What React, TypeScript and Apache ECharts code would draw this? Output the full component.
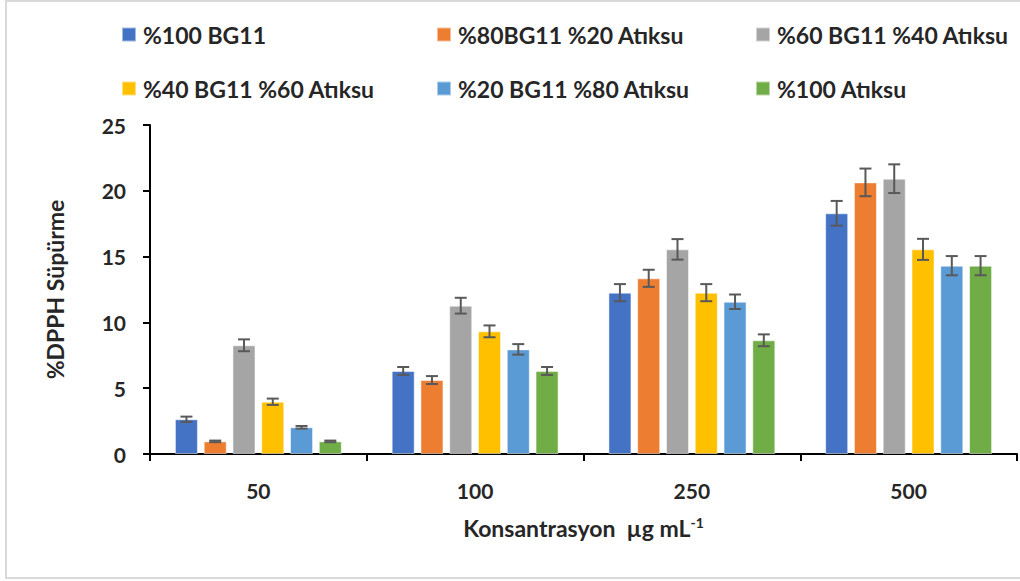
import React, { useEffect, useRef } from "react";
import * as echarts from "echarts";

const categories = ["50", "100", "250", "500"];
const seriesNames = [
  "%100 BG11",
  "%80BG11 %20 Atıksu",
  "%60 BG11 %40 Atıksu",
  "%40 BG11 %60 Atıksu",
  "%20 BG11 %80 Atıksu",
  "%100 Atıksu",
];
const colors = ["#4472C4", "#ED7D31", "#A5A5A5", "#FFC000", "#5B9BD5", "#70AD47"];

const bg100 = [2.64, 6.31, 12.26, 18.29];
const bg80 = [0.96, 5.62, 13.35, 20.64];
const bg60 = [8.26, 11.27, 15.55, 20.92];
const bg40 = [3.97, 9.32, 12.26, 15.55];
const bg20 = [2.03, 7.95, 11.57, 14.31];
const atik100 = [0.96, 6.31, 8.64, 14.31];

const err100 = [0.2, 0.3, 0.65, 0.94];
const err80 = [0.06, 0.3, 0.65, 1.05];
const err60 = [0.45, 0.6, 0.78, 1.09];
const err40 = [0.24, 0.45, 0.65, 0.8];
const err20 = [0.1, 0.4, 0.55, 0.73];
const errAtik = [0.06, 0.3, 0.45, 0.73];

const yTicks = [0, 25, 5];

const values = [bg100, bg80, bg60, bg40, bg20, atik100];
const errors = [err100, err80, err60, err40, err20, errAtik];

const FONT = "Lato, 'Liberation Sans', sans-serif";
const CAT_GAP = 0.23;
const BAR_GAP = 0.25;

export default function App() {
  const ref = useRef<HTMLDivElement>(null);
  useEffect(() => {
    if (!ref.current) return;
    const chart = echarts.init(ref.current, null, { renderer: "svg" });

    const legendPos = [
      [121, 23],
      [436, 23],
      [755, 23],
      [121, 77],
      [436, 77],
      [755, 77],
    ];

    const barSeries = seriesNames.map((name, i) => ({
      name,
      type: "bar",
      data: values[i],
      itemStyle: { color: colors[i], borderColor: "rgba(255,255,255,0.5)", borderWidth: 1 },
      barGap: `${BAR_GAP * 100}%`,
      barCategoryGap: `${CAT_GAP * 100}%`,
    }));

    const errData: number[][] = [];
    values.forEach((arr, si) => {
      arr.forEach((v, ci) => {
        errData.push([ci, v, errors[si][ci], si]);
      });
    });

    const errSeries = {
      type: "custom",
      name: "err",
      z: 10,
      data: errData,
      encode: { x: 0, y: 1 },
      renderItem: (params: any, api: any) => {
        const cat = api.value(0);
        const val = api.value(1);
        const e = api.value(2);
        const si = api.value(3);
        const band = api.size([1, 0])[0];
        const w = (band * (1 - CAT_GAP)) / (6 + 5 * BAR_GAP);
        const pitch = w * (1 + BAR_GAP);
        const c = api.coord([cat, val]);
        const x = c[0] + (si - 2.5) * pitch;
        const top = api.coord([cat, val + e])[1];
        const bot = api.coord([cat, val - e])[1];
        const half = 6;
        const style = { stroke: "#595959", lineWidth: 2 };
        return {
          type: "group",
          children: [
            { type: "line", shape: { x1: x, y1: top, x2: x, y2: bot }, style },
            { type: "line", shape: { x1: x - half, y1: top, x2: x + half, y2: top }, style },
            { type: "line", shape: { x1: x - half, y1: bot, x2: x + half, y2: bot }, style },
          ],
        };
      },
    };

    const option: any = {
      animation: false,
      backgroundColor: "#ffffff",
      textStyle: { fontFamily: FONT },
      legend: seriesNames.map((n, i) => ({
        data: [n],
        left: legendPos[i][0],
        top: legendPos[i][1],
        padding: 0,
        itemWidth: 14,
        itemHeight: 14,
        icon: "rect",
        selectedMode: false,
        textStyle: { fontFamily: FONT, fontSize: 23, fontWeight: "bold", color: "#262626", padding: [0, 0, 0, 2] },
      })),
      grid: { left: 150, right: 3, top: 125, bottom: 127, containLabel: false },
      xAxis: {
        type: "category",
        data: categories,
        axisLine: { lineStyle: { color: "#000", width: 2 } },
        axisTick: { show: true, length: 7, interval: 0, lineStyle: { color: "#000", width: 2 } },
        axisLabel: { fontFamily: FONT, fontSize: 21, fontWeight: "bold", color: "#262626", margin: 26 },
        name: "{a|Konsantrasyon  µg mL}{s|-1}",
        nameLocation: "middle",
        nameGap: 61,
        nameTextStyle: {
          rich: {
            a: { fontFamily: FONT, fontSize: 23, fontWeight: "bold", color: "#262626" },
            s: { fontFamily: FONT, fontSize: 14, fontWeight: "bold", color: "#262626", verticalAlign: "top", padding: [0, 0, 12, 0] },
          },
        },
      },
      yAxis: {
        type: "value",
        min: yTicks[0],
        max: yTicks[1],
        interval: yTicks[2],
        axisLine: { show: true, lineStyle: { color: "#000", width: 2 } },
        axisTick: { show: true, length: 7, lineStyle: { color: "#000", width: 2 } },
        splitLine: { show: false },
        axisLabel: { fontFamily: FONT, fontSize: 21, fontWeight: "bold", color: "#262626", margin: 24 },
        name: "%DPPH Süpürme",
        nameLocation: "middle",
        nameRotate: 90,
        nameGap: 84,
        nameTextStyle: { fontFamily: FONT, fontSize: 23, fontWeight: "bold", color: "#262626" },
      },
      graphic: [
        {
          type: "rect",
          shape: { x: 6, y: 1, width: 1030, height: 577 },
          style: { fill: "none", stroke: "#d9d9d9", lineWidth: 2 },
          silent: true,
          z: 100,
        },
      ],
      series: [...barSeries, errSeries],
    };
    chart.setOption(option);
    return () => chart.dispose();
  }, []);

  return (
    <div
      ref={ref}
      style={{ position: "absolute", left: 0, top: 0, width: 1020, height: 581 }}
    />
  );
}
